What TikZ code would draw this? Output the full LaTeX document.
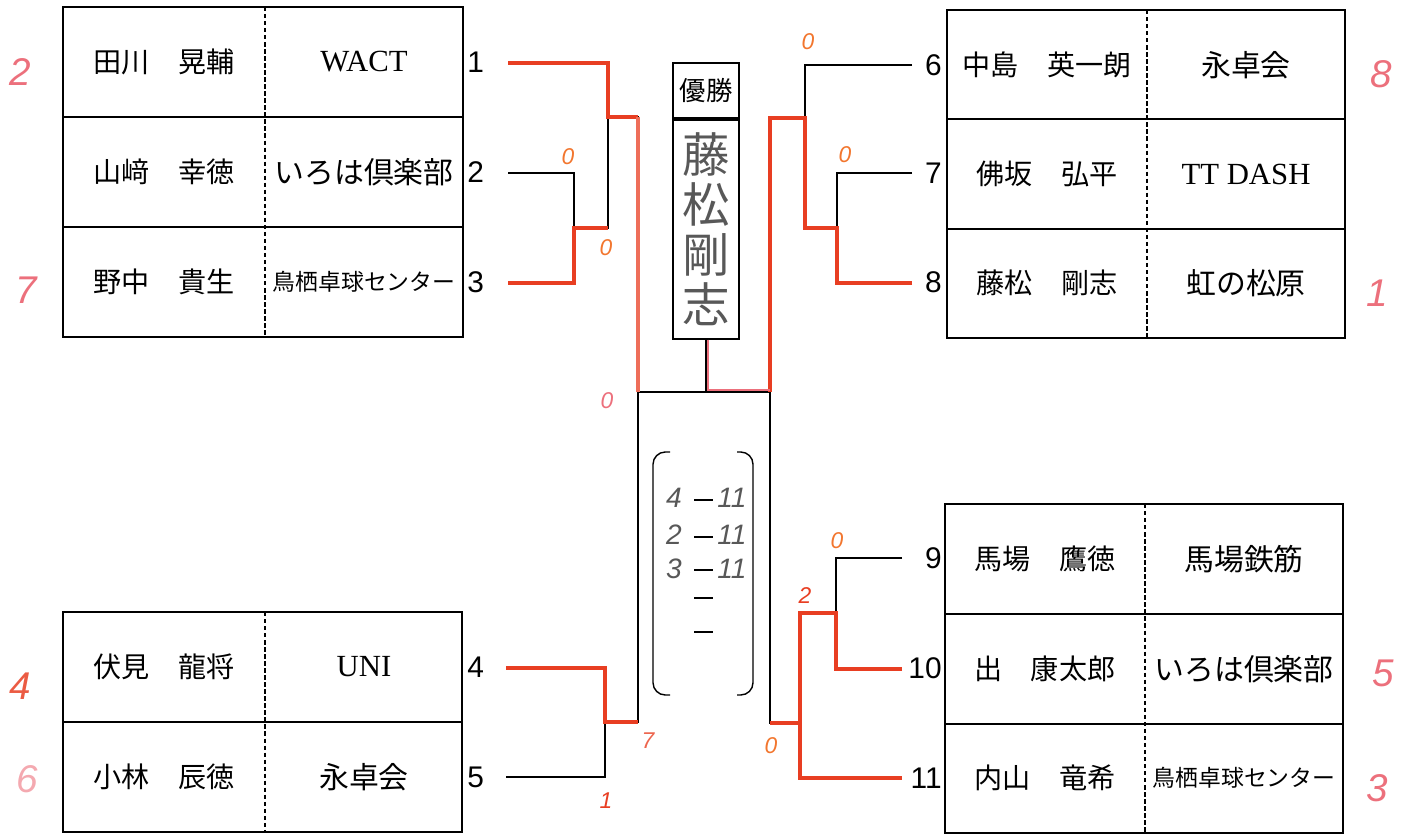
\documentclass[tikz,border=0pt]{standalone}
\usepackage{fontspec}
\setmainfont{Liberation Serif}
\newfontfamily\jp{Noto Sans CJK JP}
\newfontfamily\num{Liberation Sans}
\usepackage{xcolor}
\usetikzlibrary{positioning, calc}
\definecolor{winred}{RGB}{232,62,34}
\definecolor{penpink}{RGB}{236,112,124}
\definecolor{penorange}{RGB}{242,118,46}
\definecolor{pencil}{RGB}{88,88,88}
\tikzstyle{frame} = [line width=1pt]
\tikzstyle{divider} = [line width=1.2pt, dash pattern=on 2.5pt off 1.5pt]
\tikzstyle{bracket} = [line width=0.8pt]
\tikzstyle{win} = [line width=2.2pt, winred]
\tikzstyle{winlight} = [line width=1.8pt, winred!75]
\tikzstyle{pinkline} = [line width=1.3pt, penpink]
\tikzstyle{player} = [font=\jp\fontsize{16}{16}\selectfont]
\tikzstyle{club} = [font=\jp\fontsize{17}{17}\selectfont]
\tikzstyle{clubsmall} = [font=\jp\fontsize{13}{13}\selectfont]
\tikzstyle{latin} = [font=\fontsize{17.5}{17.5}\selectfont]
\tikzstyle{seed} = [font=\num\fontsize{17}{17}\selectfont, inner sep=0pt]
\tikzstyle{rank} = [font=\num\itshape\fontsize{22}{22}\selectfont, penpink]
\tikzstyle{game} = [font=\num\itshape\fontsize{13}{13}\selectfont, penorange]
\tikzstyle{hand} = [font=\num\itshape\fontsize{16}{16}\selectfont, pencil]

\begin{document}
\begin{tikzpicture}[x=0.02cm,y=-0.02cm]
    \useasboundingbox (0,0) rectangle (1415,837);
    % left top table
    \draw[frame] (63,7) rectangle (463,337);
    \draw[frame] (63,117) -- (463,117);
    \draw[frame] (63,227) -- (463,227);
    \draw[divider] (265,7) -- (265,337);
    \node[player] (n1) at (164,62) {田川　晃輔};
    \node[latin] (c1) at (364,62) {WACT};
    \node[player] (n2) at (164,172) {山﨑　幸徳};
    \node[club] (c2) at (364,172) {いろは倶楽部};
    \node[player] (n3) at (164,282) {野中　貴生};
    \node[clubsmall] (c3) at (364,282) {鳥栖卓球センター};
    \node[seed, anchor=west] (p1) at (467,62) {1};
    \node[seed, anchor=west] (p2) at (467,172) {2};
    \node[seed, anchor=west] (p3) at (467,282) {3};
    % left bottom table
    \draw[frame] (63,612) rectangle (462,832);
    \draw[frame] (63,722) -- (462,722);
    \draw[divider] (265,612) -- (265,832);
    \node[player] (n4) at (164,667) {伏見　龍将};
    \node[latin] (c4) at (364,667) {UNI};
    \node[player] (n5) at (164,777) {小林　辰徳};
    \node[club] (c5) at (364,777) {永卓会};
    \node[seed, anchor=west] (p4) at (467,667) {4};
    \node[seed, anchor=west] (p5) at (467,777) {5};
    % right top table
    \draw[frame] (947,10) rectangle (1345,338);
    \draw[frame] (947,119) -- (1345,119);
    \draw[frame] (947,229) -- (1345,229);
    \draw[divider] (1147,10) -- (1147,338);
    \node[player] (n6) at (1047,65) {中島　英一朗};
    \node[club] (c6) at (1246,65) {永卓会};
    \node[player] (n7) at (1047,174) {佛坂　弘平};
    \node[latin] (c7) at (1246,174) {TT DASH};
    \node[player] (n8) at (1047,283) {藤松　剛志};
    \node[club] (c8) at (1246,283) {虹の松原};
    \node[seed, anchor=east] (p6) at (942,65) {6};
    \node[seed, anchor=east] (p7) at (942,173) {7};
    \node[seed, anchor=east] (p8) at (942,282) {8};
    % right bottom table
    \draw[frame] (945,504) rectangle (1343,833);
    \draw[frame] (945,614) -- (1343,614);
    \draw[frame] (945,724) -- (1343,724);
    \draw[divider] (1145,504) -- (1145,833);
    \node[player] (n9) at (1045,559) {馬場　鷹徳};
    \node[club] (c9) at (1244,559) {馬場鉄筋};
    \node[player] (n10) at (1045,669) {出　康太郎};
    \node[club] (c10) at (1244,669) {いろは倶楽部};
    \node[player] (n11) at (1045,778) {内山　竜希};
    \node[clubsmall] (c11) at (1244,778) {鳥栖卓球センター};
    \node[seed, anchor=east] (p9) at (942,558) {9};
    \node[seed, anchor=east] (p10) at (942,668) {10};
    \node[seed, anchor=east] (p11) at (942,778) {11};
    % champion box
    \node[draw, frame, minimum width=1.32cm, minimum height=1.1cm, inner sep=0pt,
          font=\jp\fontsize{15}{15}\selectfont] (head) at (706,90.5) {優勝};
    \node[draw, frame, minimum width=1.32cm, minimum height=4.38cm, inner sep=0pt,
          below=0pt of head, align=center, text=pencil,
          font=\jp\fontsize{27}{28.5}\selectfont] (champ) {藤\\松\\剛\\志};
    % bracket ends and junctions
    \coordinate (e1) at (508,63);
    \coordinate (e2) at (508,173);
    \coordinate (e3) at (508,283);
    \coordinate (e4) at (506,668);
    \coordinate (e5) at (506,777);
    \coordinate (e6) at (912,65);
    \coordinate (e7) at (912,173);
    \coordinate (e8) at (912,283);
    \coordinate (e9) at (902,558);
    \coordinate (e10) at (902,669);
    \coordinate (e11) at (902,778);
    \coordinate (j23) at (574,228);
    \coordinate (j123) at (608,117);
    \coordinate (j45) at (605,722);
    \coordinate (j78) at (837,228);
    \coordinate (j678) at (805,118);
    \coordinate (j910) at (836,613);
    \coordinate (j1011) at (800,723);
    \coordinate (sl) at (638,117);
    \coordinate (fl) at (638,392);
    \coordinate (bl) at (638,722);
    \coordinate (sr) at (770,118);
    \coordinate (fr) at (770,392);
    \coordinate (br) at (770,723);
    % black lines
    \draw[bracket] (e1) -| (j123) |- (j23);
    \draw[bracket] (e2) -| (j23) |- (e3);
    \draw[bracket] (j123) -- (sl) -- (fl) -- (fr) -- (sr) -- (j678);
    \draw[bracket] (e6) -| (j678) |- (j78);
    \draw[bracket] (e7) -| (j78) |- (e8);
    \draw[bracket] (e4) -| (j45) |- (e5);
    \draw[bracket] (j45) -- (bl) -- (fl);
    \draw[bracket] (fr) -- (br) -- (j1011);
    \draw[bracket] (e9) -| (j910) |- (e10);
    \draw[bracket] (j910) -| (j1011) |- (e11);
    \draw[bracket] (champ.south) -- (champ.south |- fl);
    % red pen
    \draw[win] (e1) -| (j123) -- (sl);
    \draw[win] (e3) -| (j23) -- (j23 -| j123);
    \draw[winlight] (sl) -- (fl);
    \draw[win] (e4) -| (j45) -- (bl);
    \draw[win] (e8) -| (j78) -| (j678) -- (sr) -- (fr);
    \draw[pinkline] ($(champ.south)+(2,0)$) |- ($(fr)+(0,-2)$);
    \draw[win] (e10) -| (j910) -| (j1011) |- (e11);
    \draw[win] (br) -- (j1011);
    % scores
    \draw[bracket, rounded corners=7pt] (670,452) -- (653,452) -- (653,695) -- (670,695);
    \draw[bracket, rounded corners=7pt] (737,452) -- (753,452) -- (753,695) -- (737,695);
    \foreach \y in {500,537,570,598,632}
        \draw[bracket] (694,\y) -- (713,\y);
    \node[hand] (g1a) at (674,498) {4};
    \node[hand] (g1b) at (732,498) {11};
    \node[hand] (g2a) at (674,535) {2};
    \node[hand] (g2b) at (732,535) {11};
    \node[hand] (g3a) at (674,569) {3};
    \node[hand] (g3b) at (732,569) {11};
    % red numbers
    \node[rank] (r1) at (20,72) {2};
    \node[rank] (r3) at (26,290) {7};
    \node[rank, winred!85] (r4) at (20,686) {4};
    \node[rank, penpink!60] (r5) at (27,779) {6};
    \node[rank] (r6) at (1381,74) {8};
    \node[rank] (r8) at (1377,293) {1};
    \node[rank] (r10) at (1383,673) {5};
    \node[rank] (r11) at (1377,788) {3};
    \node[game] (s2) at (568,157) {0};
    \node[game] (s3) at (606,248) {0};
    \node[game, penpink] (sf) at (607,401) {0};
    \node[game] (s6) at (808,42) {0};
    \node[game] (s7) at (845,155) {0};
    \node[game] (s9) at (837,541) {0};
    \node[game, winred] (s10) at (805,596) {2};
    \node[game] (s11) at (771,746) {0};
    \node[game, winred!80] (s4) at (648,741) {7};
    \node[game, winred] (s5) at (606,801) {1};
\end{tikzpicture}
\end{document}
